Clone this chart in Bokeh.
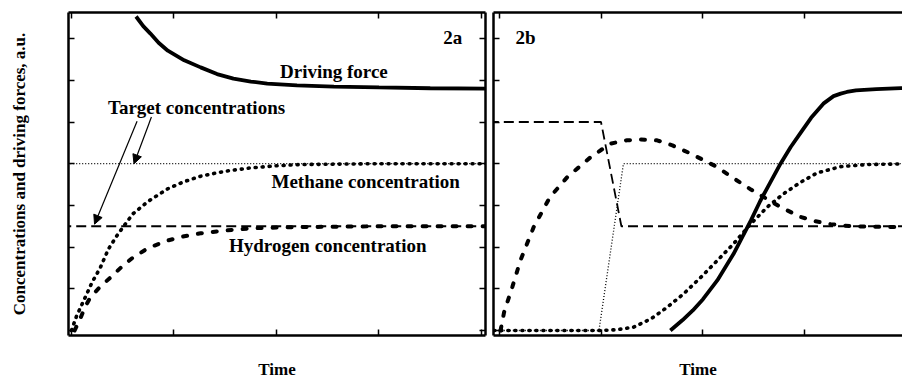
from bokeh.plotting import figure
from bokeh.models import Range1d, LinearAxis, FixedTicker, Label, Arrow, NormalHead, CustomLabelingPolicy
from bokeh.layouts import row
from bokeh.embed import file_html
from bokeh.resources import INLINE

FONT = "Liberation Serif"

x_ticks = [0, 1, 2, 3, 4]
y_ticks = [0, 1, 2, 3, 4, 5, 6, 7]

# ---------------- panel 2a ----------------
a_target_x = [-0.1, 4.1]
a_target_ch4 = [4.0, 4.0]
a_target_h2 = [2.5, 2.5]

a_ch4_x = [0.0, 0.05, 0.12, 0.2, 0.28, 0.36, 0.45, 0.6, 0.75, 0.94, 1.1, 1.26, 1.5, 1.75, 2.0, 2.23, 2.6, 3.0, 3.5, 4.1]
a_ch4_y = [0.0, 0.35, 0.72, 1.15, 1.5, 1.95, 2.3, 2.8, 3.1, 3.4, 3.57, 3.7, 3.82, 3.9, 3.95, 3.98, 3.99, 4.0, 4.0, 4.0]

a_h2_x = [0.03, 0.08, 0.13, 0.185, 0.28, 0.38, 0.5, 0.6, 0.75, 0.94, 1.1, 1.26, 1.5, 1.75, 2.0, 2.23, 2.6, 3.0, 3.5, 4.1]
a_h2_y = [0.0, 0.25, 0.55, 0.8, 1.05, 1.27, 1.55, 1.75, 1.98, 2.16, 2.26, 2.33, 2.4, 2.45, 2.47, 2.48, 2.49, 2.5, 2.5, 2.5]

a_df_x = [0.63, 0.7, 0.77, 0.85, 0.94, 1.1, 1.26, 1.42, 1.58, 1.75, 1.91, 2.2, 2.56, 3.0, 3.5, 4.1]
a_df_y = [7.53, 7.3, 7.12, 6.9, 6.71, 6.48, 6.31, 6.15, 6.04, 5.97, 5.92, 5.88, 5.85, 5.83, 5.81, 5.8]

a_labels = ["2a", "Driving force", "Target concentrations", "Methane concentration", "Hydrogen concentration"]
a_label_x = [3.72, 2.56, 1.22, 2.87, 2.5]
a_label_y = [7.03, 6.21, 5.35, 3.57, 2.04]

arrow_x_start = [0.64, 0.78]
arrow_y_start = [5.02, 5.12]
arrow_x_end = [0.225, 0.61]
arrow_y_end = [2.55, 4.0]

# ---------------- panel 2b ----------------
b_target_h2_x = [-0.1, 1.0, 1.2, 4.1]
b_target_h2_y = [5.0, 5.0, 2.5, 2.5]
b_target_ch4_x = [-0.1, 0.98, 1.22, 4.1]
b_target_ch4_y = [0.0, 0.0, 4.0, 4.0]

b_h2_x = [0.015, 0.05, 0.13, 0.21, 0.34, 0.5, 0.67, 0.9, 1.09, 1.25, 1.39, 1.55, 1.7, 1.88, 2.14, 2.3, 2.47, 2.63, 2.76, 2.96, 3.1, 3.25, 3.45, 3.94, 4.1]
b_h2_y = [0.0, 0.44, 1.04, 1.68, 2.48, 3.2, 3.68, 4.16, 4.48, 4.56, 4.58, 4.56, 4.44, 4.24, 3.92, 3.65, 3.38, 3.15, 2.96, 2.72, 2.62, 2.55, 2.5, 2.48, 2.48]

b_ch4_x = [-0.05, 1.0, 1.16, 1.32, 1.49, 1.65, 1.81, 1.98, 2.14, 2.3, 2.47, 2.63, 2.79, 2.96, 3.12, 3.35, 3.61, 4.1]
b_ch4_y = [0.0, 0.0, 0.02, 0.08, 0.28, 0.56, 0.88, 1.28, 1.68, 2.08, 2.56, 2.96, 3.28, 3.56, 3.78, 3.93, 3.98, 4.0]

b_df_x = [1.68, 1.8, 1.9, 2.0, 2.14, 2.3, 2.47, 2.56, 2.66, 2.76, 2.86, 2.96, 3.06, 3.18, 3.28, 3.35, 3.41, 3.5, 3.7, 3.94, 4.1]
b_df_y = [0.0, 0.25, 0.48, 0.75, 1.2, 1.84, 2.64, 3.1, 3.55, 4.0, 4.4, 4.75, 5.1, 5.44, 5.62, 5.68, 5.72, 5.76, 5.79, 5.81, 5.82]

b_labels = ["2b"]
b_label_x = [0.26]
b_label_y = [7.03]

y_label = "Concentrations and driving forces, a.u."
x_label = "Time"


def style(p, ylab=None):
    p.grid.visible = False
    p.outline_line_color = None
    p.background_fill_color = "white"
    p.border_fill_color = "white"
    for ax in p.xaxis:
        ax.ticker = FixedTicker(ticks=x_ticks)
    for ax in p.yaxis:
        ax.ticker = FixedTicker(ticks=y_ticks)
    for ax in p.axis:
        ax.major_tick_in = 6
        ax.major_tick_out = 0
        ax.minor_tick_line_color = None
        ax.major_label_text_font_size = "0px"
        ax.major_label_standoff = 0
        ax.major_label_policy = CustomLabelingPolicy(code="return new Set()")
        ax.axis_line_width = 2.5
        ax.axis_line_color = "black"
        ax.major_tick_line_width = 1.5
        ax.major_tick_line_color = "black"
        ax.axis_label_text_font = FONT
        ax.axis_label_text_font_style = "bold"
        ax.axis_label_text_font_size = "17px"
        ax.axis_label_text_color = "black"
    p.below[0].axis_label = x_label
    p.below[0].axis_label_standoff = 24
    if ylab:
        p.left[0].axis_label = ylab
        p.left[0].axis_label_standoff = 40


def draw(p, tx1, ty1, tx2, ty2, ch4x, ch4y, h2x, h2y, dfx, dfy):
    p.line(tx1, ty1, line_color="black", line_width=1.3, line_dash="1 2")
    p.line(tx2, ty2, line_color="black", line_width=1.8, line_dash="10 5")
    p.line(ch4x, ch4y, line_color="black", line_width=3.6, line_dash="1 6", line_cap="round")
    p.line(h2x, h2y, line_color="black", line_width=4, line_dash="4 11", line_cap="round")
    p.line(dfx, dfy, line_color="black", line_width=3.8)


def add_labels(p, texts, xs, ys):
    for t, x, y in zip(texts, xs, ys):
        p.add_layout(Label(x=x, y=y, text=t, text_align="center", text_baseline="middle",
                           text_font=FONT, text_font_style="bold", text_font_size="19px",
                           text_color="black"))


pa = figure(width=489, height=383, x_range=Range1d(-0.029, 4.039), y_range=Range1d(-0.12, 7.626),
            toolbar_location=None, output_backend="svg",
            min_border_left=68, min_border_right=4, min_border_top=12, min_border_bottom=48)
pa.add_layout(LinearAxis(), "above")
pa.add_layout(LinearAxis(), "right")
style(pa, y_label)
draw(pa, a_target_x, a_target_ch4, a_target_x, a_target_h2, a_ch4_x, a_ch4_y, a_h2_x, a_h2_y, a_df_x, a_df_y)
add_labels(pa, a_labels, a_label_x, a_label_y)
for xs, ys, xe, ye in zip(arrow_x_start, arrow_y_start, arrow_x_end, arrow_y_end):
    pa.add_layout(Arrow(end=NormalHead(size=9, line_color="black", fill_color="black", line_width=1),
                        x_start=xs, y_start=ys, x_end=xe, y_end=ye, line_width=1.2, line_color="black"))

pb = figure(width=413, height=383, x_range=Range1d(-0.054, 3.956), y_range=Range1d(-0.12, 7.626),
            toolbar_location=None, output_backend="svg",
            min_border_left=4, min_border_right=0, min_border_top=12, min_border_bottom=48)
pb.add_layout(LinearAxis(), "above")
style(pb)
draw(pb, b_target_ch4_x, b_target_ch4_y, b_target_h2_x, b_target_h2_y, b_ch4_x, b_ch4_y, b_h2_x, b_h2_y, b_df_x, b_df_y)
add_labels(pb, b_labels, b_label_x, b_label_y)

layout = row(pa, pb)
open("out.html", "w").write(file_html(layout, INLINE))
